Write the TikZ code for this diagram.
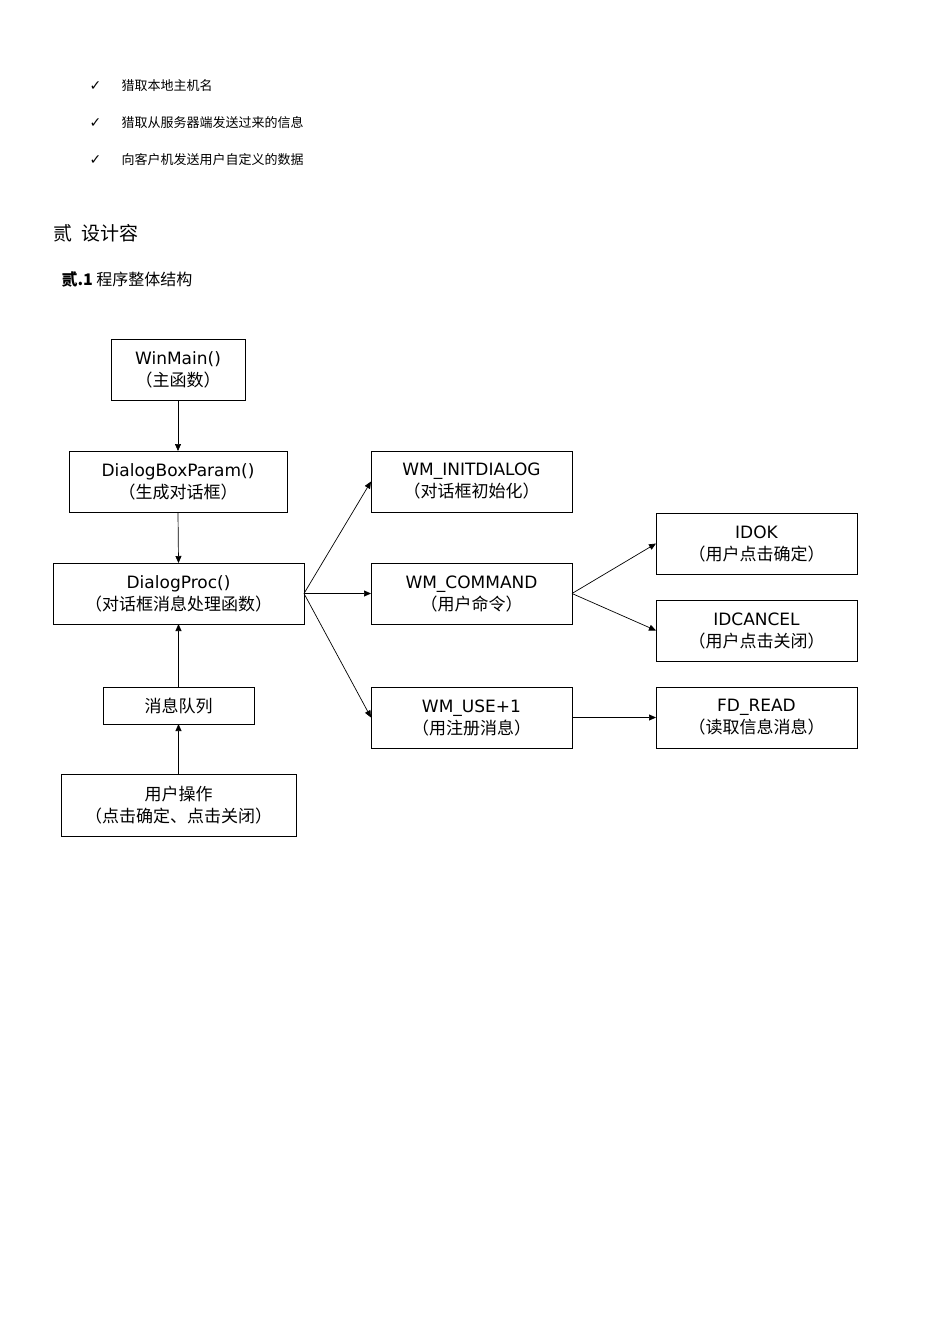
\documentclass[tikz,border=0pt]{standalone}
\usepackage{fontspec}
\setmainfont{DejaVu Sans}
\newfontfamily\cjk{Noto Sans CJK SC}
\newfontfamily\dv{DejaVu Sans}
\usetikzlibrary{arrows.meta}
\begin{document}
\begin{tikzpicture}[x=1pt,y=-1pt,
  bx/.style={draw,line width=0.8pt,inner sep=0pt},
  lb/.style={align=center,font=\fontsize{17}{22}\selectfont},
  ar/.style={-{Triangle[length=7pt,width=6pt]},line width=0.7pt}]
\useasboundingbox (0,0) rectangle (950,1344);
\foreach \y/\t in {86/猎取本地主机名,123/猎取从服务器端发送过来的信息,160/向客户机发送用户自定义的数据}{
  \node[anchor=west,font=\dv\fontsize{14}{14}\selectfont] at (86,\y) {✓};
  \node[anchor=west,font=\cjk\fontsize{13}{14}\selectfont] at (118,\y) {\t};}
\node[anchor=west,font=\cjk\fontsize{19}{20}\selectfont] (h1) at (50,233) {贰\ \ 设计容};
\node[anchor=west,font=\cjk\fontsize{16}{18}\selectfont] (h2) at (58,279) {\textbf{贰.1}\ 程序整体结构};
\newcommand\bxx[6]{\draw[bx] (#2,#3) rectangle (#4,#5) coordinate (#1-c);
  \node[lb] (#1) at ({(#2+#4)/2},{(#3+#5)/2}) {#6};
  \coordinate (#1-n) at ({(#2+#4)/2},#3); \coordinate (#1-s) at ({(#2+#4)/2},#5);
  \coordinate (#1-w) at (#2,{(#3+#5)/2}); \coordinate (#1-e) at (#4,{(#3+#5)/2});}
\bxx{wm}{111}{339}{245}{400}{WinMain()\\{\cjk（主函数）}}
\bxx{dbp}{69}{451}{287}{512}{DialogBoxParam()\\{\cjk（生成对话框）}}
\bxx{dp}{53}{563}{304}{624}{DialogProc()\\{\cjk（对话框消息处理函数）}}
\bxx{mq}{103}{687}{254}{724}{{\cjk 消息队列}}
\bxx{uo}{61}{774}{296}{836}{{\cjk 用户操作}\\{\cjk（点击确定、点击关闭）}}
\bxx{wi}{371}{451}{572}{512}{WM\_INITDIALOG\\{\cjk（对话框初始化）}}
\bxx{wc}{371}{563}{572}{624}{WM\_COMMAND\\{\cjk（用户命令）}}
\bxx{wu}{371}{687}{572}{748}{WM\_USE+1\\{\cjk（用注册消息）}}
\bxx{ok}{656}{513}{857}{574}{IDOK\\{\cjk（用户点击确定）}}
\bxx{ca}{656}{600}{857}{661}{IDCANCEL\\{\cjk（用户点击关闭）}}
\bxx{fd}{656}{687}{857}{748}{FD\_READ\\{\cjk（读取信息消息）}}
\draw[ar] (wm-s) -- (dbp-n);
\draw[ar] (dbp-s) -- (dp-n);
\draw[ar] (mq-n) -- (dp-s);
\draw[ar] (uo-n) -- (mq-s);
\draw[ar] (dp-e) -- (wi-w);
\draw[ar] (dp-e) -- (wc-w);
\draw[ar] (dp-e) -- (wu-w);
\draw[ar] (wc-e) -- (ok-w);
\draw[ar] (wc-e) -- (ca-w);
\draw[ar] (wu-e) -- (fd-w);
\end{tikzpicture}
\end{document}
